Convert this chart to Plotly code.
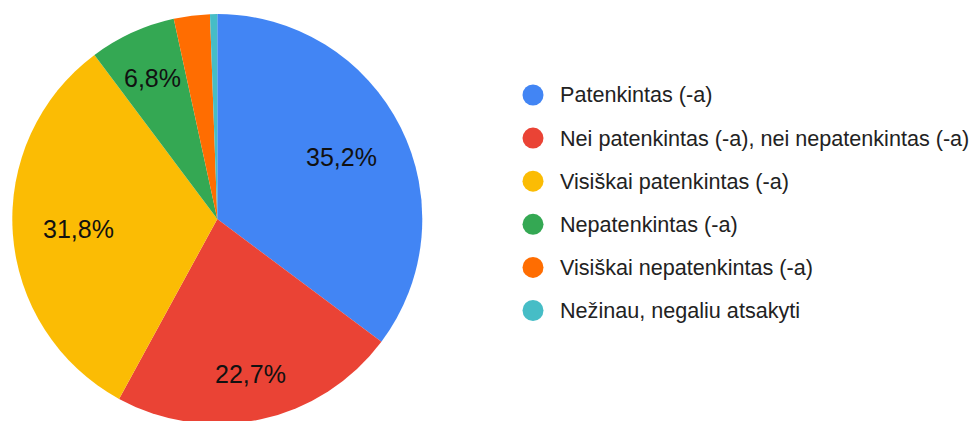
import math
import plotly.graph_objects as go

labels = [
    "Patenkintas (-a)",
    "Nei patenkintas (-a), nei nepatenkintas (-a)",
    "Visiškai patenkintas (-a)",
    "Nepatenkintas (-a)",
    "Visiškai nepatenkintas (-a)",
    "Nežinau, negaliu atsakyti",
]
values = [62, 40, 56, 12, 5, 1]
colors = ["#4285F4", "#EA4335", "#FBBC04", "#34A853", "#FF6D01", "#46BDC6"]

W, H = 979, 421
HF = 430            # figure slightly taller than window; pie runs off the bottom like the reference
CX, CY, R = 217.3, 219.0, 205.0   # pie centre / radius in pixels
FONT = "Liberation Sans, Arial, sans-serif"
PCT_SIZE = 25

total = sum(values)

def fmt(v):
    return f"{v / total * 100:.1f}".replace(".", ",") + "%"

CHAR_W = {",": 0.278, "%": 0.889}

def text_w(s, size):
    return sum(CHAR_W.get(c, 0.556) for c in s) * size

fig = go.Figure()
fig.add_trace(go.Pie(
    labels=labels,
    values=values,
    textinfo="none",
    sort=False,
    direction="clockwise",
    rotation=0,
    marker=dict(colors=colors, line=dict(width=0)),
    domain=dict(x=[(CX - R) / W, (CX + R) / W], y=[1 - (CY + R) / HF, 1 - (CY - R) / HF]),
    showlegend=False,
    hoverinfo="label+percent",
))

# percentage labels placed along each slice's mid-angle (large slices only)
cum = 0.0
for v in values:
    frac = v / total
    mid = (cum + frac / 2) * 2 * math.pi
    cum += frac
    if frac < 0.05:
        continue
    s = fmt(v)
    ux, uy = math.sin(mid), -math.cos(mid)
    hw, hh = text_w(s, PCT_SIZE) / 2, 9.0
    r = 0.853 * R - (hw * abs(ux) + hh * abs(uy))
    px, py = CX + r * ux, CY + r * uy
    fig.add_annotation(
        x=px / W, y=1 - py / HF, xref="paper", yref="paper",
        text=s, showarrow=False, xanchor="center", yanchor="middle",
        font=dict(family=FONT, size=PCT_SIZE, color="#111111"),
    )

# custom legend with circular markers
legend_x_px = 533
text_x_px = 558
y0_px = 95
dy_px = 43.1
for i, (lab, col) in enumerate(zip(labels, colors)):
    cy = y0_px + i * dy_px
    fig.add_shape(
        type="circle", xref="paper", yref="paper",
        x0=(legend_x_px - 10.5) / W, x1=(legend_x_px + 10.5) / W,
        y0=1 - (cy + 10.5) / HF, y1=1 - (cy - 10.5) / HF,
        fillcolor=col, line=dict(width=0),
    )
    fig.add_annotation(
        x=text_x_px / W, y=1 - cy / HF, xref="paper", yref="paper",
        text=lab, showarrow=False, xanchor="left", yanchor="middle",
        font=dict(family=FONT, size=21.6, color="#222222"),
    )

fig.update_layout(
    width=W, height=HF,
    margin=dict(l=0, r=0, t=0, b=0),
    paper_bgcolor="white",
    plot_bgcolor="white",
)
fig.write_html(
    "out.html",
    config={"displayModeBar": False},
    post_script="document.body.style.margin='0';document.body.style.overflow='hidden';"
                "document.documentElement.style.overflow='hidden';",
)
